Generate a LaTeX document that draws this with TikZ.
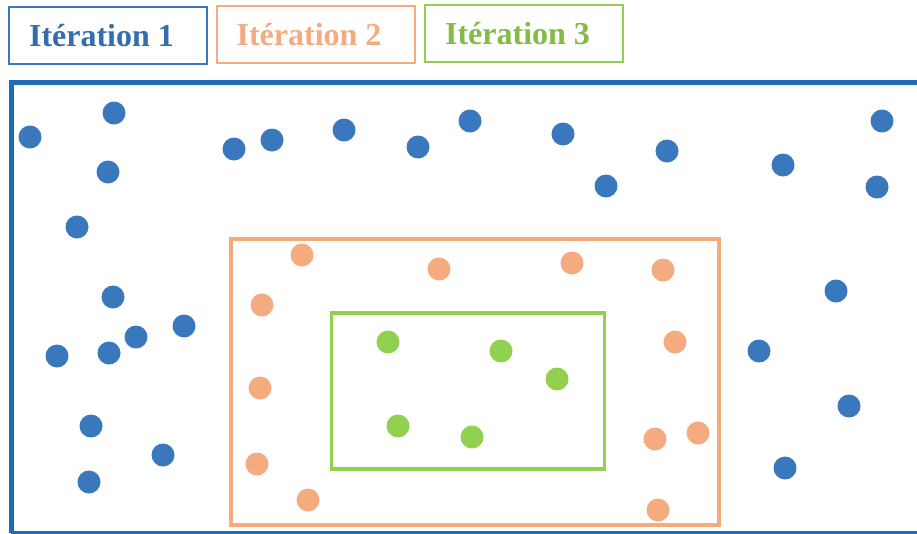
\documentclass[tikz,border=0pt]{standalone}
\usepackage{fontspec}
\setmainfont{Liberation Serif}

\definecolor{iterblue}{HTML}{3A78BD}
\definecolor{iterorange}{HTML}{F5AB80}
\definecolor{itergreen}{HTML}{92D050}
\definecolor{framblue}{HTML}{1F6CB6}

\begin{document}
\begin{tikzpicture}[
    x=1pt, y=-1pt,
    font=\fontsize{32}{36}\selectfont\bfseries,
    legend/.style={
        draw,
        line width=2pt,
        minimum width=198pt,
        minimum height=57pt,
        inner sep=0pt
    },
    zone/.style={
        draw,
        line width=3.5pt,
        inner sep=0pt
    },
    pt/.style={
        circle,
        minimum size=23pt,
        inner sep=0pt
    },
    ptA/.style={pt, fill=iterblue},
    ptB/.style={pt, fill=iterorange},
    ptC/.style={pt, fill=itergreen}
]

\clip (0,0) rectangle (917,533);
\fill[white] (0,0) rectangle (917,533);

% legend
\node[legend, draw=iterblue, text=iterblue!92!black] (legA) at (108,35.5) {Itération 1\kern13pt};
\node[legend, draw=iterorange, text=iterorange] (legB) at (315.5,34.5) {Itération 2\kern13pt};
\node[legend, draw=itergreen, text=itergreen!90!black] (legC) at (524,33.5) {Itération 3\kern13pt};

% search area
\draw[framblue, line width=5pt] (11,533) -- (11,82) -- (940,82);
\draw[framblue, line width=5pt] (11,533) -- (940,533);

\node[zone, draw=iterorange, minimum width=488pt, minimum height=286pt] (zoneB) at (475,382) {};
\node[zone, draw=itergreen, minimum width=273pt, minimum height=156pt] (zoneC) at (468,391) {};

% iteration 1
\node[ptA] (a1) at (30,137) {};
\node[ptA] (a2) at (114,113) {};
\node[ptA] (a3) at (108,172) {};
\node[ptA] (a4) at (77,227) {};
\node[ptA] (a5) at (234,149) {};
\node[ptA] (a6) at (272,140) {};
\node[ptA] (a7) at (344,130) {};
\node[ptA] (a8) at (418,147) {};
\node[ptA] (a9) at (470,121) {};
\node[ptA] (a10) at (563,134) {};
\node[ptA] (a11) at (606,186) {};
\node[ptA] (a12) at (667,151) {};
\node[ptA] (a13) at (783,165) {};
\node[ptA] (a14) at (882,121) {};
\node[ptA] (a15) at (877,187) {};
\node[ptA] (a16) at (113,297) {};
\node[ptA] (a17) at (136,337) {};
\node[ptA] (a18) at (184,326) {};
\node[ptA] (a19) at (57,356) {};
\node[ptA] (a20) at (109,353) {};
\node[ptA] (a21) at (91,426) {};
\node[ptA] (a22) at (163,455) {};
\node[ptA] (a23) at (89,482) {};
\node[ptA] (a24) at (836,291) {};
\node[ptA] (a25) at (759,351) {};
\node[ptA] (a26) at (849,406) {};
\node[ptA] (a27) at (785,468) {};

% iteration 2
\node[ptB] (b1) at (302,255) {};
\node[ptB] (b2) at (439,269) {};
\node[ptB] (b3) at (572,263) {};
\node[ptB] (b4) at (663,270) {};
\node[ptB] (b5) at (262,305) {};
\node[ptB] (b6) at (675,342) {};
\node[ptB] (b7) at (260,388) {};
\node[ptB] (b8) at (655,439) {};
\node[ptB] (b9) at (698,433) {};
\node[ptB] (b10) at (257,464) {};
\node[ptB] (b11) at (308,500) {};
\node[ptB] (b12) at (658,510) {};

% iteration 3
\node[ptC] (c1) at (388,342) {};
\node[ptC] (c2) at (501,351) {};
\node[ptC] (c3) at (557,379) {};
\node[ptC] (c4) at (398,426) {};
\node[ptC] (c5) at (472,437) {};

\end{tikzpicture}
\end{document}
